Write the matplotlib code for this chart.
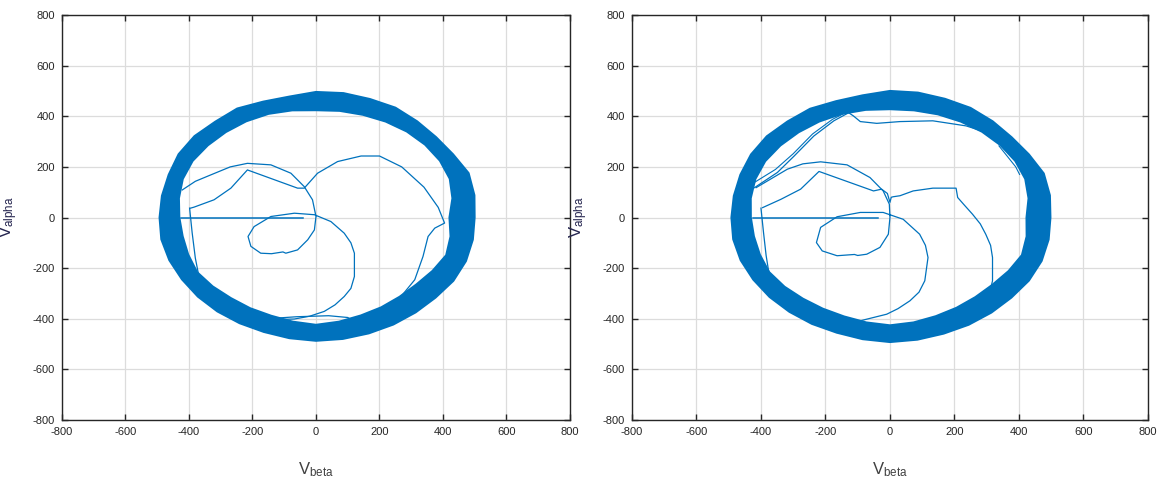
import numpy as np
import matplotlib.pyplot as plt
from matplotlib.path import Path
from matplotlib.patches import PathPatch

plt.rcParams['axes.unicode_minus'] = False

# ring (steady-state band), radii read at 10 degree steps
ring_angles = np.arange(0, 360, 10)
left_outer = [498, 505, 510, 497, 492, 494, 499, 496, 497, 494, 483, 485,
              495, 492, 498, 498, 492, 491, 491, 493, 490, 486, 484, 482,
              480, 479, 482, 485, 485, 485, 486, 487, 490, 498, 501, 500]
left_inner = [422, 438, 450, 452, 450, 446, 440, 434, 430, 426, 432, 438,
              441, 443, 446, 450, 448, 440, 432, 428, 430, 434, 426, 418,
              416, 415, 420, 426, 420, 414, 412, 411, 414, 425, 438, 432]
right_outer = [496, 502, 506, 496, 491, 494, 498, 497, 499, 498, 488, 487,
               494, 493, 497, 496, 492, 490, 490, 492, 491, 488, 486, 484,
               483, 482, 486, 490, 488, 486, 487, 488, 490, 496, 499, 498]
right_inner = [425, 438, 448, 450, 448, 445, 440, 436, 432, 430, 434, 438,
               440, 442, 445, 448, 446, 440, 433, 430, 431, 434, 428, 421,
               418, 418, 423, 428, 423, 417, 414, 413, 416, 426, 437, 432]

# transient trajectories, left panel
left_hline_x = [-424, -40]
left_hline_y = [0, 0]
left_vline_x = [-398, -390, -380, -366]
left_vline_y = [37, -60, -160, -250]
left_a_x = [-421, -380, -332, -270, -216, -142, -79, -37, -11, 0, -5, -26, -58,
            -95, -104, -140, -174, -205, -214, -195, -142, -68, -5, 47, 89, 110,
            121, 121, 110, 89, 60, 26, -20, -68, -153]
left_a_y = [109, 143, 168, 200, 214, 208, 175, 122, 70, 4, -49, -88, -128,
            -141, -136, -143, -141, -114, -75, -36, 4, 17, 11, -16, -62, -100,
            -141, -233, -280, -312, -345, -371, -390, -401, -404]
left_b_x = [-395, -384, -321, -268, -216, -58, -37, 5, 68, 142, 200, 270, 340,
            385, 405, 374, 353, 337, 311, 268, 205, 121]
left_b_y = [37, 41, 70, 116, 188, 116, 116, 175, 221, 243, 243, 200, 120,
            40, -22, -42, -75, -154, -246, -312, -378, -417]
left_c_x = [-155, -60, 40, 100, 120]
left_c_y = [-400, -392, -388, -395, -410]
left_d_x = [-428, -415, -395, -370]
left_d_y = [-60, -150, -230, -300]

# transient trajectories, right panel
right_hline_x = [-426, -36]
right_hline_y = [0, 0]
right_vline_x = [-400, -392, -384, -374]
right_vline_y = [37, -60, -150, -230]
right_a_x = [-415, -318, -270, -215, -133, -62, -21, -2, 0, -5, -31, -72, -100,
             -110, -164, -210, -228, -215, -164, -92, -21, 41, 92, 110, 118, 108,
             90, 62, 25, -10, -92, -164]
right_a_y = [118, 191, 212, 220, 208, 158, 105, 53, 0, -66, -118, -145, -150,
             -146, -151, -132, -99, -39, 3, 20, 20, -7, -66, -110, -158, -250,
             -295, -329, -360, -382, -408, -408]
right_b_x = [-395, -338, -277, -220, -51, -26, -8, 0, 4, 10, 31, 72, 133, 205,
             210, 230, 256, 280, 297, 312, 318, 318, 308, 285, 256]
right_b_y = [39, 72, 112, 182, 105, 112, 95, 60, 80, 82, 86, 105, 116, 116,
             79, 50, 13, -25, -66, -110, -158, -250, -303, -335, -355]
right_d_x = [-420, -349, -297, -236, -174, -128, -113, -92, -41, 31, 133, 236,
             290, 318, 349]
right_d_y = [118, 178, 243, 322, 382, 414, 401, 379, 372, 379, 382, 362, 340,
             322, 289]
right_d2_x = [-425, -355, -300, -240, -178, -132]
right_d2_y = [135, 190, 252, 330, 388, 418]
right_e_x = [338, 365, 390, 402]
right_e_y = [283, 240, 200, 170]
right_f_x = [-430, -418, -400, -385]
right_f_y = [-60, -140, -210, -260]

ticks = [-800, -600, -400, -200, 0, 200, 400, 600, 800]
blue = '#0072BD'
txt = '#262626'
tick_font = ['Liberation Sans', 'DejaVu Sans']

fig = plt.figure(figsize=(11.69, 4.86), dpi=100)
ax1 = fig.add_axes([0.053, 0.1358, 0.4346, 0.8333])
ax2 = fig.add_axes([0.5406, 0.1358, 0.4414, 0.8333])


def draw_ring(ax, outer, inner):
    th = np.deg2rad(np.append(ring_angles, ring_angles[0]))
    ro = np.append(outer, outer[0])
    ri = np.append(inner, inner[0])
    xo, yo = ro * np.cos(th), ro * np.sin(th)
    xi, yi = (ri * np.cos(th))[::-1], (ri * np.sin(th))[::-1]
    verts = np.vstack([np.column_stack([xo, yo]), np.column_stack([xi, yi])])
    n = len(xo)
    codes = ([Path.MOVETO] + [Path.LINETO] * (n - 2) + [Path.CLOSEPOLY]) * 2
    ax.add_patch(PathPatch(Path(verts, codes), fc=blue, ec=blue, lw=2.2,
                           joinstyle='round', zorder=3))


def style(ax):
    ax.set_xlim(-800, 800)
    ax.set_ylim(-800, 800)
    ax.set_xticks(ticks)
    ax.set_yticks(ticks)
    ax.grid(True, color='#dcdcdc', lw=0.9)
    ax.set_axisbelow(True)
    ax.tick_params(direction='in', top=True, right=True, length=4,
                   width=1.0, colors=txt, labelsize=8, pad=5)
    for lab in ax.get_xticklabels() + ax.get_yticklabels():
        lab.set_family(tick_font)
    for sp in ax.spines.values():
        sp.set_color('#262626')
        sp.set_linewidth(1.0)
    ax.set_xlabel(r'$\mathregular{V_{beta}}$', fontsize=12, color='#404040',
                  family=tick_font)
    ax.set_ylabel(r'$\mathregular{V_{alpha}}$', fontsize=12, color='#262650',
                  family=tick_font)
    ax.xaxis.set_label_coords(0.5, -0.1)
    ax.yaxis.set_label_coords(-0.082, 0.5)


# left panel
draw_ring(ax1, left_outer, left_inner)
ax1.plot(left_hline_x, left_hline_y, color=blue, lw=1.1, zorder=4)
ax1.plot(left_vline_x, left_vline_y, color=blue, lw=0.9, zorder=4)
ax1.plot(left_a_x, left_a_y, color=blue, lw=0.9, zorder=4)
ax1.plot(left_b_x, left_b_y, color=blue, lw=0.9, zorder=4)
ax1.plot(left_c_x, left_c_y, color=blue, lw=0.9, zorder=4)
ax1.plot(left_d_x, left_d_y, color=blue, lw=0.6, ls=':', zorder=4)
style(ax1)

# right panel
draw_ring(ax2, right_outer, right_inner)
ax2.plot(right_hline_x, right_hline_y, color=blue, lw=1.1, zorder=4)
ax2.plot(right_vline_x, right_vline_y, color=blue, lw=0.9, zorder=4)
ax2.plot(right_a_x, right_a_y, color=blue, lw=0.9, zorder=4)
ax2.plot(right_b_x, right_b_y, color=blue, lw=0.9, zorder=4)
ax2.plot(right_d_x, right_d_y, color=blue, lw=0.9, zorder=4)
ax2.plot(right_d2_x, right_d2_y, color=blue, lw=0.8, zorder=4)
ax2.plot(right_e_x, right_e_y, color=blue, lw=0.8, zorder=4)
ax2.plot(right_f_x, right_f_y, color=blue, lw=0.6, ls=':', zorder=4)
style(ax2)

fig.savefig('out.png', dpi=100)
